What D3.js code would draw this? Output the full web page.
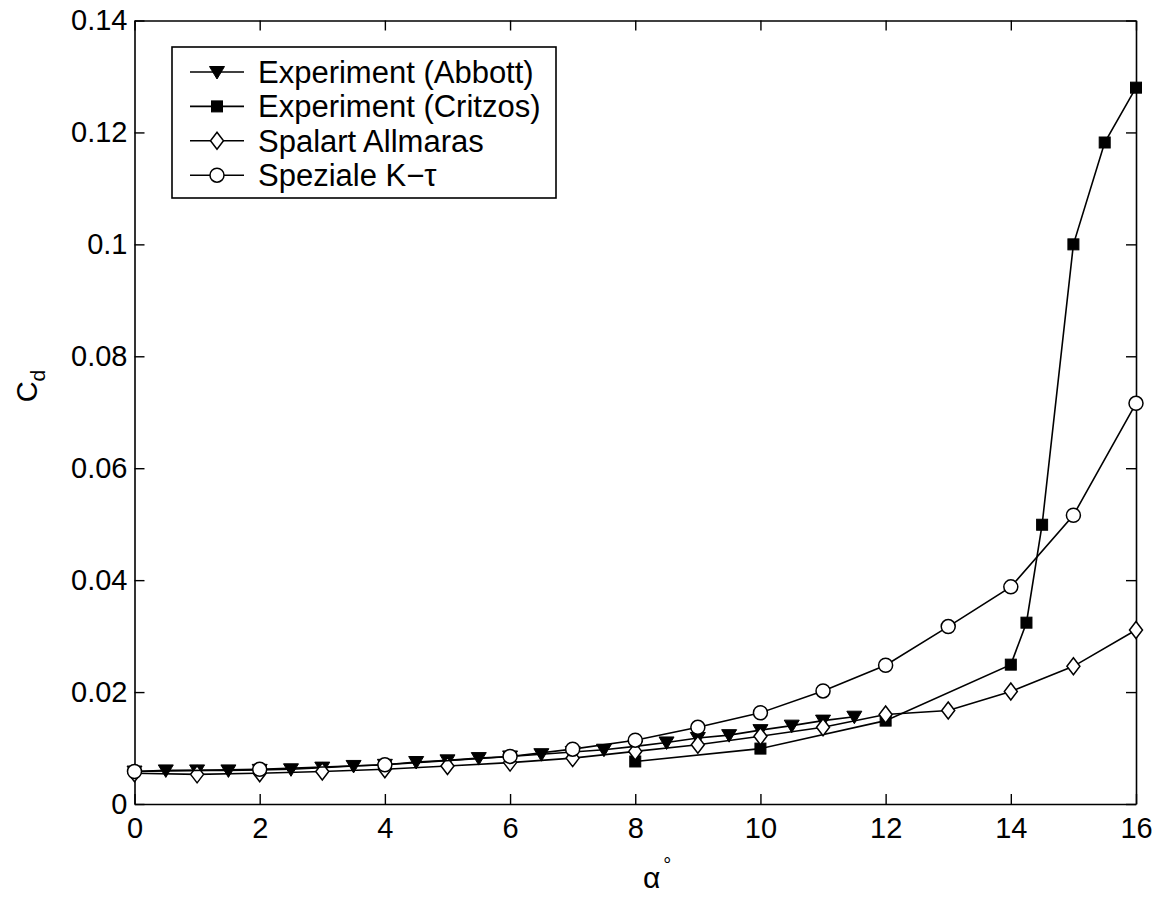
<!DOCTYPE html>
<html>
<head>
<meta charset="utf-8">
<script src="https://cdn.jsdelivr.net/npm/d3@7"></script>
<style>
  html, body { margin: 0; padding: 0; background: #fff; }
  svg { display: block; }
  text { font-family: "Liberation Sans", Arial, Helvetica, sans-serif; fill: #000; }
</style>
</head>
<body>
<svg id="chart" width="1168" height="897"></svg>
<script>
// Drag coefficient versus angle of attack
const abbottAlpha = [0, 0.5, 1, 1.5, 2, 2.5, 3, 3.5, 4, 4.5, 5, 5.5, 6, 6.5, 7, 7.5, 8, 8.5, 9, 9.5, 10, 10.5, 11, 11.5];
const abbottCd    = [0.0058, 0.0060, 0.0060, 0.0060, 0.0061, 0.0062, 0.0065, 0.0068, 0.0070, 0.0075, 0.0078, 0.0082, 0.0085, 0.0089, 0.0093, 0.0097, 0.0103, 0.0110, 0.0118, 0.0123, 0.0132, 0.0140, 0.0149, 0.0156];

const critzosAlpha = [8, 10, 12, 14, 14.25, 14.5, 15, 15.5, 16];
const critzosCd    = [0.0076, 0.0099, 0.0149, 0.0249, 0.0324, 0.0499, 0.1000, 0.1182, 0.1280];

const spalartAlpha = [0, 1, 2, 3, 4, 5, 6, 7, 8, 9, 10, 11, 12, 13, 14, 15, 16];
const spalartCd    = [0.0055, 0.0053, 0.0055, 0.0058, 0.0062, 0.0068, 0.0074, 0.0082, 0.0094, 0.0106, 0.0121, 0.0137, 0.0160, 0.0167, 0.0201, 0.0246, 0.0311];

const spezialeAlpha = [0, 2, 4, 6, 7, 8, 9, 10, 11, 12, 13, 14, 15, 16];
const spezialeCd    = [0.0058, 0.0062, 0.0070, 0.0085, 0.0098, 0.0114, 0.0137, 0.0163, 0.0202, 0.0248, 0.0317, 0.0388, 0.0516, 0.0716];

const seriesNames = ["Experiment (Abbott)", "Experiment (Critzos)", "Spalart Allmaras", "Speziale K\u2212\u03C4"];
const markerKinds = ["triangle", "square", "diamond", "circle"];

const xTicks = [0, 2, 4, 6, 8, 10, 12, 14, 16];
const yTicks = [0, 0.02, 0.04, 0.06, 0.08, 0.1, 0.12, 0.14];

const series = [
  { name: seriesNames[0], kind: markerKinds[0], x: abbottAlpha, y: abbottCd },
  { name: seriesNames[1], kind: markerKinds[1], x: critzosAlpha, y: critzosCd },
  { name: seriesNames[2], kind: markerKinds[2], x: spalartAlpha, y: spalartCd },
  { name: seriesNames[3], kind: markerKinds[3], x: spezialeAlpha, y: spezialeCd }
];

const svg = d3.select("#chart");
const plot = { left: 134.5, right: 1136, top: 20.5, bottom: 804 };

const x = d3.scaleLinear().domain([0, 16]).range([plot.left, plot.right]);
const y = d3.scaleLinear().domain([0, 0.14]).range([plot.bottom, plot.top]);

const tickLen = 10;
const fmt = v => String(+v.toFixed(2));

// Frame with inward ticks on all four sides
const axBottom = svg.append("g").attr("transform", `translate(0,${plot.bottom})`)
  .call(d3.axisBottom(x).tickValues(xTicks).tickSizeInner(-tickLen).tickSizeOuter(0).tickPadding(14).tickFormat(fmt));
const axTop = svg.append("g").attr("transform", `translate(0,${plot.top})`)
  .call(d3.axisTop(x).tickValues(xTicks).tickSizeInner(-tickLen).tickSizeOuter(0).tickFormat(""));
const axLeft = svg.append("g").attr("transform", `translate(${plot.left},0)`)
  .call(d3.axisLeft(y).tickValues(yTicks).tickSizeInner(-tickLen).tickSizeOuter(0).tickPadding(7).tickFormat(fmt));
const axRight = svg.append("g").attr("transform", `translate(${plot.right},0)`)
  .call(d3.axisRight(y).tickValues(yTicks).tickSizeInner(-tickLen).tickSizeOuter(0).tickFormat(""));

[axBottom, axTop, axLeft, axRight].forEach(g => {
  g.select(".domain").attr("stroke", "#000").attr("stroke-width", 1.6);
  g.selectAll(".tick line").attr("stroke", "#000").attr("stroke-width", 1.4);
  g.selectAll(".tick text").attr("font-size", 29).attr("font-family", "Liberation Sans, Arial, sans-serif").attr("fill", "#000");
});
axBottom.selectAll(".tick text").attr("dy", null).attr("y", 34);

// Marker glyphs
function drawMarker(g, kind, cx, cy) {
  if (kind === "triangle") {
    g.append("path")
      .attr("d", `M${cx - 7.5},${cy - 5.5} L${cx + 7.5},${cy - 5.5} L${cx},${cy + 7} Z`)
      .attr("fill", "#000").attr("stroke", "#000").attr("stroke-width", 1);
  } else if (kind === "square") {
    g.append("rect")
      .attr("x", cx - 5.5).attr("y", cy - 5.5).attr("width", 11).attr("height", 11)
      .attr("fill", "#000").attr("stroke", "#000").attr("stroke-width", 1);
  } else if (kind === "diamond") {
    g.append("path")
      .attr("d", `M${cx},${cy - 8.5} L${cx + 6.5},${cy} L${cx},${cy + 8.5} L${cx - 6.5},${cy} Z`)
      .attr("fill", "#fff").attr("stroke", "#000").attr("stroke-width", 1.5);
  } else {
    g.append("circle")
      .attr("cx", cx).attr("cy", cy).attr("r", 7)
      .attr("fill", "#fff").attr("stroke", "#000").attr("stroke-width", 1.5);
  }
}

const line = d3.line().x(d => x(d[0])).y(d => y(d[1]));

series.forEach(s => {
  const pts = s.x.map((a, i) => [a, s.y[i]]);
  const g = svg.append("g");
  g.append("path").attr("d", line(pts))
    .attr("fill", "none").attr("stroke", "#000").attr("stroke-width", 1.6);
  pts.forEach(p => drawMarker(g, s.kind, x(p[0]), y(p[1])));
});

// Legend
const legend = { left: 172, top: 47, width: 384, height: 151 };
const lg = svg.append("g");
lg.append("rect")
  .attr("x", legend.left).attr("y", legend.top)
  .attr("width", legend.width).attr("height", legend.height)
  .attr("fill", "#fff").attr("stroke", "#000").attr("stroke-width", 1.6);
const rowY = i => legend.top + 25 + i * 34.4;
series.forEach((s, i) => {
  const ry = rowY(i);
  lg.append("line").attr("x1", 190).attr("x2", 244).attr("y1", ry).attr("y2", ry)
    .attr("stroke", "#000").attr("stroke-width", 1.6);
  drawMarker(lg, s.kind, 217, ry);
  lg.append("text").attr("x", 258).attr("y", ry + 11)
    .attr("font-size", 31).text(s.name);
});

// Axis titles
const yTitle = svg.append("text")
  .attr("transform", "translate(37,386) rotate(-90)")
  .attr("font-size", 29).attr("text-anchor", "middle");
yTitle.append("tspan").text("C");
yTitle.append("tspan").attr("font-size", 21).attr("dy", 8).text("d");

const xTitle = svg.append("text")
  .attr("x", 643).attr("y", 888)
  .attr("font-family", "Liberation Serif, Times New Roman, serif")
  .attr("font-size", 30);
xTitle.append("tspan").text("\u03B1");
xTitle.append("tspan").attr("font-size", 20).attr("dy", -16).attr("dx", 3).text("\u00B0");
</script>
</body>
</html>
